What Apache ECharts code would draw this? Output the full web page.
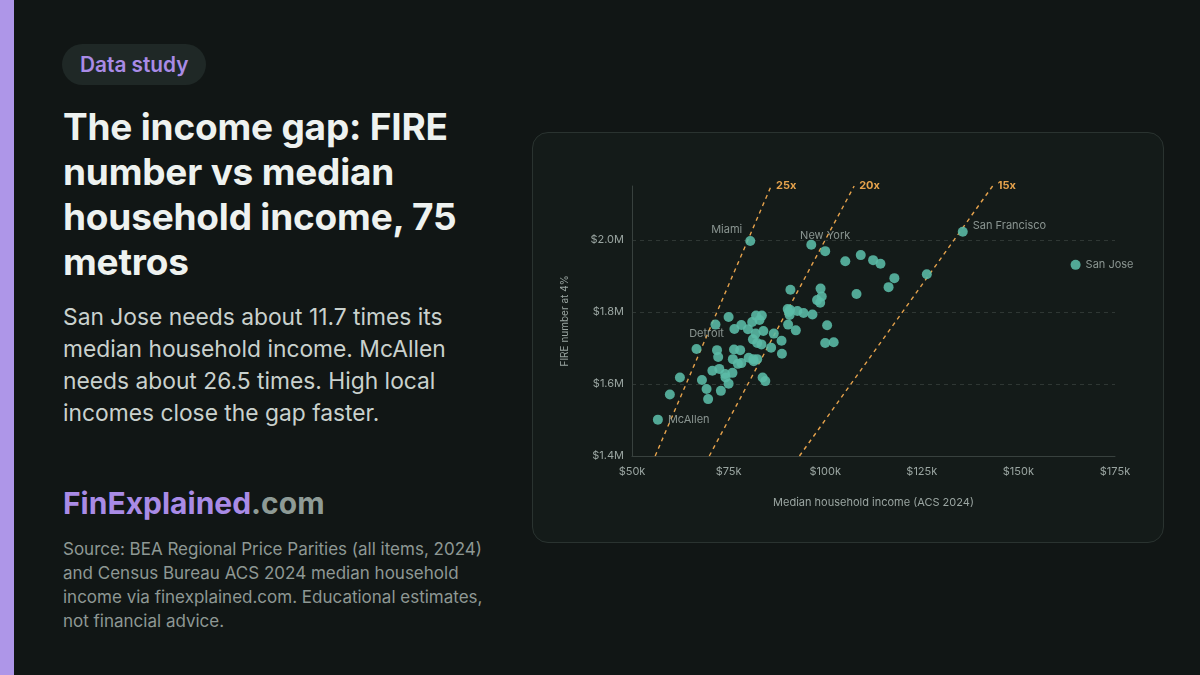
<!DOCTYPE html>
<html>
<head>
<meta charset="utf-8">
<script src="https://cdn.jsdelivr.net/npm/echarts@6/dist/echarts.min.js"></script>
<style>
  html, body { margin: 0; padding: 0; }
  body {
    width: 1200px; height: 675px; overflow: hidden; position: relative;
    background: #111615; font-family: Inter, "Noto Sans", sans-serif;
  }
  .bar { position: absolute; left: 0; top: 0; width: 14px; height: 675px; background: #ae96e8; }
  .pill {
    position: absolute; left: 62px; top: 44px; height: 41px; padding: 0 18px;
    border-radius: 21px; background: #1f2826; color: #a98be6;
    font-size: 20.8px; font-weight: 600; line-height: 41px;
  }
  .title {
    position: absolute; left: 63px; top: 104px; width: 420px;
    color: #eef2f0; font-size: 37px; font-weight: 700; line-height: 45px; letter-spacing: -0.2px;
  }
  .lede {
    position: absolute; left: 63px; top: 301px; width: 430px;
    color: #c9d1cd; font-size: 22.8px; line-height: 32px;
  }
  .brand {
    position: absolute; left: 63px; top: 485px; font-size: 30px; font-weight: 700; color: #a98be6;
  }
  .brand span { color: #8e9b96; }
  .source {
    position: absolute; left: 63px; top: 537px; width: 432px;
    color: #8e9894; font-size: 17px; line-height: 24px;
  }
  .card {
    position: absolute; left: 532px; top: 132px; width: 630px; height: 409px;
    border: 1px solid #2a3330; border-radius: 16px; background: #141b19;
  }
  #chart { position: absolute; left: 0; top: 0; width: 1200px; height: 675px; }
</style>
</head>
<body>
<div class="bar"></div>
<div class="pill">Data study</div>
<div class="title">The income gap: FIRE number vs median household income, 75 metros</div>
<div class="lede">San Jose needs about 11.7 times its median household income. McAllen needs about 26.5 times. High local incomes close the gap faster.</div>
<div class="brand">FinExplained<span>.com</span></div>
<div class="source">Source: BEA Regional Price Parities (all items, 2024) and Census Bureau ACS 2024 median household income via finexplained.com. Educational estimates, not financial advice.</div>
<div class="card"></div>
<div id="chart"></div>
<script>
  // first six metros carry a label
  const labelledNames = ['McAllen', 'Detroit', 'Miami', 'New York', 'San Francisco', 'San Jose'];

  // median household income, $k
  const incomeK = [
    56.7, 66.7, 80.6, 100.0, 135.6, 164.8,
    59.8, 62.4, 68.1, 69.3, 69.7, 70.8, 71.6, 72.0, 72.3, 72.6,
    73.0, 74.1, 74.2, 75.0, 75.0, 76.0, 76.1, 76.4, 76.5, 77.4,
    78.3, 78.0, 78.3, 80.0, 80.2, 81.1, 81.4, 82.4, 82.1, 83.6,
    83.0, 82.0, 84.0, 81.3, 82.4, 83.5, 86.0, 86.7, 83.8, 84.5,
    88.7, 88.8, 90.4, 92.4, 90.3, 90.9, 90.8, 92.8, 94.4, 96.7,
    100.5, 100.0, 102.2, 91.0, 98.8, 99.1, 97.9, 98.7, 96.4, 105.2,
    109.2, 112.4, 114.3, 117.9, 116.4, 108.1, 126.3, 81.5, 90.6
  ];

  // FIRE number at 4% withdrawal, $M
  const fireM = [
    1.501, 1.697, 1.997, 1.969, 2.023, 1.931,
    1.571, 1.618, 1.611, 1.586, 1.558, 1.637, 1.765, 1.694, 1.675, 1.642,
    1.581, 1.628, 1.618, 1.601, 1.786, 1.631, 1.669, 1.696, 1.753, 1.656,
    1.658, 1.694, 1.764, 1.752, 1.673, 1.772, 1.669, 1.669, 1.790, 1.790,
    1.778, 1.740, 1.747, 1.724, 1.714, 1.710, 1.701, 1.740, 1.618, 1.608,
    1.720, 1.684, 1.765, 1.749, 1.808, 1.806, 1.792, 1.803, 1.797, 1.793,
    1.763, 1.714, 1.716, 1.862, 1.865, 1.843, 1.833, 1.826, 1.987, 1.941,
    1.958, 1.944, 1.934, 1.894, 1.869, 1.850, 1.905, 1.663, 1.800
  ];

  const ratios = [25, 20, 15];
  const yTicks = [1.4, 1.6, 1.8, 2.0];
  const yTop = 2.15;

  // where each metro label sits
  const labelPlace = {
    'McAllen': { position: 'right', offset: [0, 0] },
    'Detroit': { position: 'top', offset: [10, 0] },
    'Miami': { position: 'left', offset: [2, -11] },
    'New York': { position: 'top', offset: [0, 0] },
    'San Francisco': { position: 'right', offset: [0, -6] },
    'San Jose': { position: 'right', offset: [0, 0] }
  };

  const font = 'Inter, "Noto Sans", sans-serif';
  const grey = '#9aa5a1';
  const orange = '#e5a24c';

  const points = incomeK.map(function (x, i) {
    const item = { value: [x, fireM[i]] };
    const name = labelledNames[i];
    if (name) {
      item.name = name;
      item.label = {
        show: true,
        formatter: name,
        position: labelPlace[name].position,
        offset: labelPlace[name].offset,
        distance: 5,
        color: grey,
        fontSize: 11,
        fontFamily: font
      };
    }
    return item;
  });

  const ratioSeries = ratios.map(function (r) {
    return {
      type: 'line',
      name: r + 'x',
      data: [[yTicks[0] * 1000 / r, yTicks[0]], [yTop * 1000 / r, yTop]],
      showSymbol: false,
      silent: true,
      lineStyle: { color: orange, width: 1.4, type: [4, 4] },
      endLabel: {
        show: true,
        formatter: r + 'x',
        color: orange,
        fontSize: 11,
        fontWeight: 'bold',
        fontFamily: font,
        distance: 5
      },
      z: 1
    };
  });

  const myChart = echarts.init(document.getElementById('chart'), null, { renderer: 'canvas' });

  const option = {
    animation: false,
    grid: { left: 632, right: 85, top: 186, bottom: 219 },
    xAxis: {
      type: 'value',
      min: 50, max: 175, interval: 25,
      name: 'Median household income (ACS 2024)',
      nameLocation: 'middle',
      nameGap: 41,
      nameTextStyle: { color: grey, fontSize: 11, fontFamily: font },
      axisLine: { show: true, lineStyle: { color: '#38413e', width: 1 } },
      axisTick: { show: false },
      axisLabel: { color: grey, fontSize: 11, fontFamily: font, margin: 10,
        formatter: function (v) { return '$' + v + 'k'; } },
      splitLine: { show: false }
    },
    yAxis: {
      type: 'value',
      min: yTicks[0], max: yTop, interval: 0.2,
      name: 'FIRE number at 4%',
      nameLocation: 'middle',
      nameGap: 62,
      nameTextStyle: { color: grey, fontSize: 10, fontFamily: font },
      axisLine: { show: true, lineStyle: { color: '#38413e', width: 1 } },
      axisTick: { show: false },
      axisLabel: { color: grey, fontSize: 11, fontFamily: font, margin: 8, showMaxLabel: false,
        formatter: function (v) { return '$' + v.toFixed(1) + 'M'; } },
      splitLine: { show: true, showMinLine: false, showMaxLine: false,
        lineStyle: { color: '#2f3734', type: [4, 4], width: 1 } }
    },
    series: ratioSeries.concat([{
      type: 'scatter',
      name: 'Metros',
      data: points,
      symbolSize: 10,
      itemStyle: { color: '#5bbca7', opacity: 0.88 },
      z: 3
    }])
  };

  myChart.setOption(option);
</script>
</body>
</html>
